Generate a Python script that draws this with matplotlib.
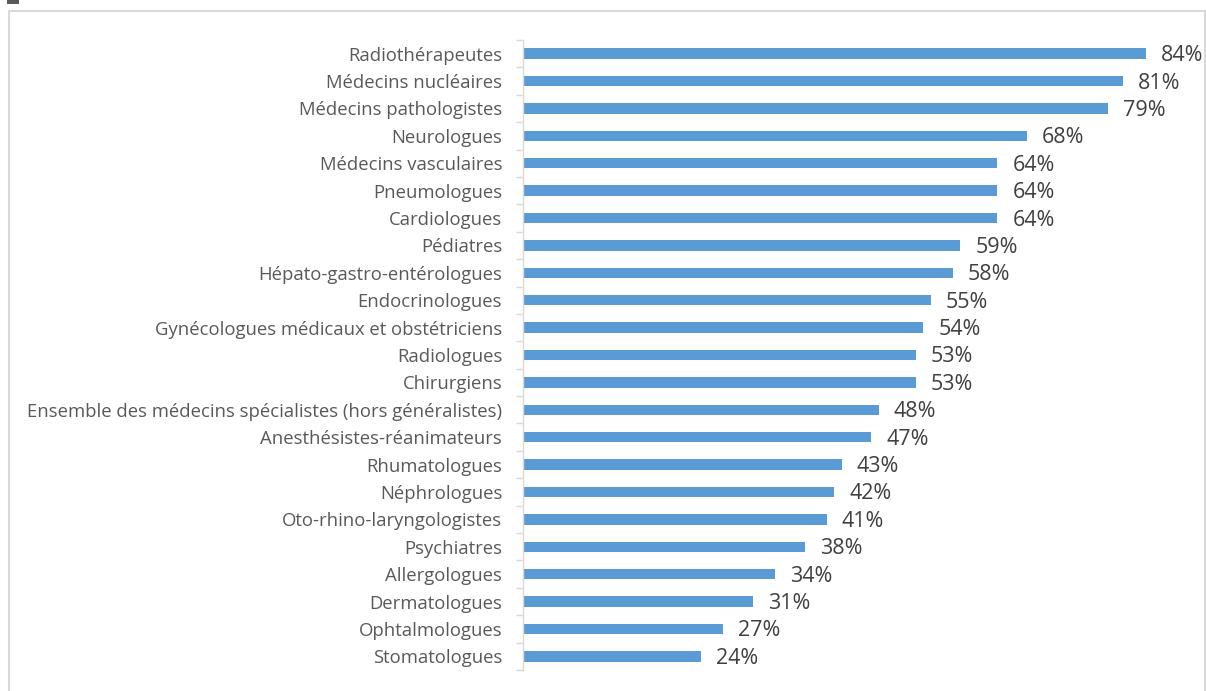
import matplotlib
matplotlib.use("Agg")
import matplotlib.pyplot as plt
from matplotlib.patches import Rectangle
import numpy as np

categories = [
    "Radiothérapeutes", "Médecins nucléaires", "Médecins pathologistes", "Neurologues",
    "Médecins vasculaires", "Pneumologues", "Cardiologues", "Pédiatres",
    "Hépato-gastro-entérologues", "Endocrinologues",
    "Gynécologues médicaux et obstétriciens", "Radiologues", "Chirurgiens",
    "Ensemble des médecins spécialistes (hors généralistes)",
    "Anesthésistes-réanimateurs", "Rhumatologues", "Néphrologues",
    "Oto-rhino-laryngologistes", "Psychiatres", "Allergologues",
    "Dermatologues", "Ophtalmologues", "Stomatologues",
]
values = [84, 81, 79, 68, 64, 64, 64, 59, 58, 55, 54, 53, 53, 48, 47, 43, 42, 41, 38, 34, 31, 27, 24]
labels = [f"{v}%" for v in values]

W, H = 1206, 691
fig = plt.figure(figsize=(W / 100, H / 100), dpi=100)
plt.rcParams['font.family'] = ['Open Sans', 'DejaVu Sans']

# outer frame and mark
fig.patches.append(Rectangle((8.5 / W, -0.01), (1205 - 8.5) / W, (H - 10.5) / H + 0.01,
                             transform=fig.transFigure, fill=False, edgecolor='#d9d9d9',
                             linewidth=1.5))
fig.patches.append(Rectangle((7 / W, (H - 4) / H), 12 / W, 5 / H,
                             transform=fig.transFigure, facecolor='#595959', edgecolor='none'))

left, right = 523 / W, 1190 / W
top, bottom = (H - 40) / H, (H - 670) / H
ax = fig.add_axes([left, bottom, right - left, top - bottom])

n = len(categories)
y = np.arange(n)
ax.barh(y, values, height=0.38, color='#5b9bd5')
ax.set_ylim(n - 0.5, -0.5)
ax.set_xlim(0, 90)

ax.set_yticks(y)
ax.set_yticklabels(categories, fontsize=13.3, color='#595959')
ax.tick_params(axis='y', which='major', length=0, pad=15)
ax.set_yticks(np.arange(-0.5, n, 1.0), minor=True)
ax.tick_params(axis='y', which='minor', length=5, color='#d9d9d9', width=1)
ax.set_xticks([])

for s in ['top', 'right', 'bottom']:
    ax.spines[s].set_visible(False)
ax.spines['left'].set_color('#d9d9d9')
ax.spines['left'].set_linewidth(1)

for yi, v, lab in zip(y, values, labels):
    ax.annotate(lab, (v, yi), xytext=(15, -2), textcoords='offset pixels',
                va='center', ha='left', fontsize=15.5, color='#404040')

fig.savefig("out.png", dpi=100)
